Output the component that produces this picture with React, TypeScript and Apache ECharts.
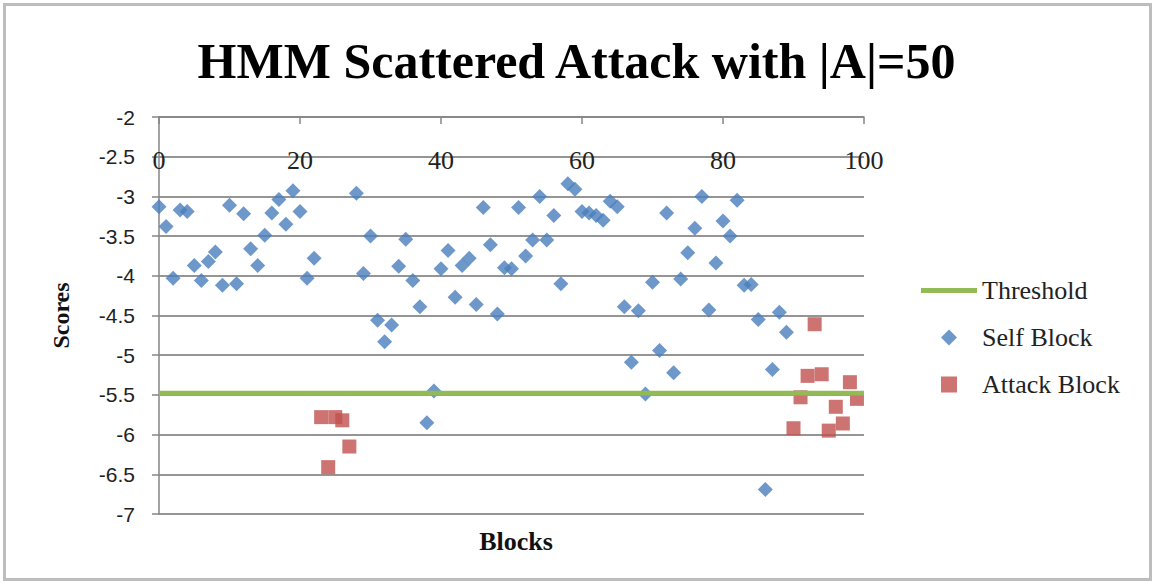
import React, { useEffect, useRef } from "react";
import * as echarts from "echarts";

// Block indices and HMM scores
const selfBlockIndex: number[] = [
  0, 1, 2, 3, 4, 5, 6, 7, 8, 9, 10, 11, 12, 13, 14, 15, 16, 17, 18, 19, 20, 21, 22,
  28, 29, 30, 31, 32, 33, 34, 35, 36, 37, 38, 39, 40, 41, 42, 43, 44, 45, 46, 47, 48, 49,
  50, 51, 52, 53, 54, 55, 56, 57, 58, 59, 60, 61, 62, 63, 64, 65, 66, 67, 68, 69,
  70, 71, 72, 73, 74, 75, 76, 77, 78, 79, 80, 81, 82, 83, 84, 85, 86, 87, 88, 89,
];
const selfBlockScore: number[] = [
  -3.13, -3.38, -4.03, -3.17, -3.19, -3.87, -4.06, -3.82, -3.7, -4.12, -3.11, -4.1,
  -3.22, -3.66, -3.87, -3.49, -3.21, -3.04, -3.35, -2.93, -3.19, -4.03, -3.78,
  -2.96, -3.97, -3.5, -4.56, -4.83, -4.62, -3.88, -3.54, -4.06, -4.39, -5.85, -5.45,
  -3.91, -3.68, -4.27, -3.87, -3.78, -4.36, -3.14, -3.61, -4.48, -3.9,
  -3.91, -3.14, -3.75, -3.55, -3.0, -3.55, -3.24, -4.1, -2.84, -2.91,
  -3.19, -3.21, -3.24, -3.3, -3.06, -3.13, -4.39, -5.09, -4.44, -5.49,
  -4.08, -4.94, -3.21, -5.22, -4.04, -3.71, -3.4, -3.0, -4.43, -3.84,
  -3.31, -3.5, -3.05, -4.12, -4.11, -4.55, -6.69, -5.18, -4.46, -4.71,
];
const attackBlockIndex: number[] = [23, 24, 25, 26, 27, 90, 91, 92, 93, 94, 95, 96, 97, 98, 99];
const attackBlockScore: number[] = [
  -5.78, -6.41, -5.78, -5.82, -6.15, -5.92, -5.53, -5.26, -4.61, -5.24, -5.95, -5.65, -5.86, -5.34, -5.55,
];
const thresholdScore = -5.48;

// Axis ticks
const xTicks: number[] = [0, 20, 40, 60, 80, 100];
const yTicks: number[] = [-7, -6.5, -6, -5.5, -5, -4.5, -4, -3.5, -3, -2.5, -2];

const SERIF = "'Liberation Serif', 'Times New Roman', serif";
const SANS = "'Liberation Sans', Arial, sans-serif";

// Legend icon shapes (aspect kept inside the legend item box)
const ICON_LINE = "path://M0,0H56V5H0Z";
const ICON_DIAMOND = "path://M0,-1L1,0L0,1L-1,0Z";
const ICON_SQUARE = "path://M0,0H1V1H0Z";

export default function App() {
  const ref = useRef<HTMLDivElement>(null);

  useEffect(() => {
    if (!ref.current) return;
    const chart = echarts.init(ref.current, undefined, { renderer: "svg" });

    const xMin = xTicks[0];
    const xMax = xTicks[xTicks.length - 1];
    const yMin = yTicks[0];
    const yMax = yTicks[yTicks.length - 1];

    const option: echarts.EChartsOption = {
      animation: false,
      backgroundColor: "#ffffff",
      title: [
        {
          text: "HMM Scattered Attack with |A|=50",
          left: "center",
          top: 31,
          textStyle: { fontFamily: SERIF, fontWeight: "bold", fontSize: 50, color: "#000" },
        },
        {
          text: "Blocks",
          left: 511,
          top: 523,
          textAlign: "center",
          textStyle: { fontFamily: SERIF, fontWeight: "bold", fontSize: 26, color: "#111" },
        },
      ],
      graphic: [
        {
          type: "rect",
          shape: { x: 4.5, y: 4.5, width: 1146, height: 575 },
          style: { fill: "none", stroke: "#bdbdbd", lineWidth: 3 },
          silent: true,
        },
      ],
      legend: {
        orient: "vertical",
        left: 916,
        top: 272,
        itemWidth: 56,
        itemHeight: 16,
        itemGap: 20,
        symbolKeepAspect: true,
        textStyle: { fontFamily: SERIF, fontSize: 26, color: "#222", lineHeight: 27 },
        data: [
          { name: "Threshold", icon: ICON_LINE },
          { name: "Self Block", icon: ICON_DIAMOND },
          { name: "Attack Block", icon: ICON_SQUARE },
        ],
      },
      grid: { left: 159, right: 289, top: 117, bottom: 69 },
      xAxis: {
        type: "value",
        position: "top",
        min: xMin,
        max: xMax,
        interval: xTicks[1] - xTicks[0],
        axisLine: { show: true, onZero: false, lineStyle: { color: "#868686", width: 1.5 } },
        axisTick: { show: true, inside: true, length: 7, lineStyle: { color: "#868686", width: 1.5 } },
        axisLabel: {
          inside: true,
          margin: 30,
          fontFamily: SERIF,
          fontSize: 26,
          color: "#222",
        },
        splitLine: { show: false },
      },
      yAxis: {
        type: "value",
        min: yMin,
        max: yMax,
        interval: yTicks[1] - yTicks[0],
        name: "Scores",
        nameLocation: "middle",
        nameGap: 86,
        nameTextStyle: { fontFamily: SERIF, fontWeight: "bold", fontSize: 24, color: "#111" },
        axisLine: { show: true, lineStyle: { color: "#868686", width: 1.5 } },
        axisTick: { show: true, length: 7, lineStyle: { color: "#868686", width: 1.5 } },
        axisLabel: { margin: 24, fontFamily: SANS, fontSize: 21, color: "#222" },
        splitLine: { show: true, lineStyle: { color: "#959595", width: 2 } },
      },
      series: [
        {
          name: "Threshold",
          type: "line",
          symbol: "none",
          lineStyle: { color: "#93BB55", width: 5 },
          itemStyle: { color: "#93BB55" },
          data: [
            [xMin, thresholdScore],
            [xMax, thresholdScore],
          ],
        },
        {
          name: "Self Block",
          type: "scatter",
          symbol: "diamond",
          symbolSize: 15,
          itemStyle: { color: "#4A7EBB" },
          data: selfBlockIndex.map((x, i) => [x, selfBlockScore[i]]),
        },
        {
          name: "Attack Block",
          type: "scatter",
          symbol: "rect",
          symbolSize: 14,
          itemStyle: { color: "#C0504D" },
          data: attackBlockIndex.map((x, i) => [x, attackBlockScore[i]]),
        },
      ],
    };

    chart.setOption(option);
    return () => chart.dispose();
  }, []);

  return (
    <div
      ref={ref}
      style={{ position: "fixed", left: 0, top: 0, width: 1153, height: 583, background: "#fff" }}
    />
  );
}
